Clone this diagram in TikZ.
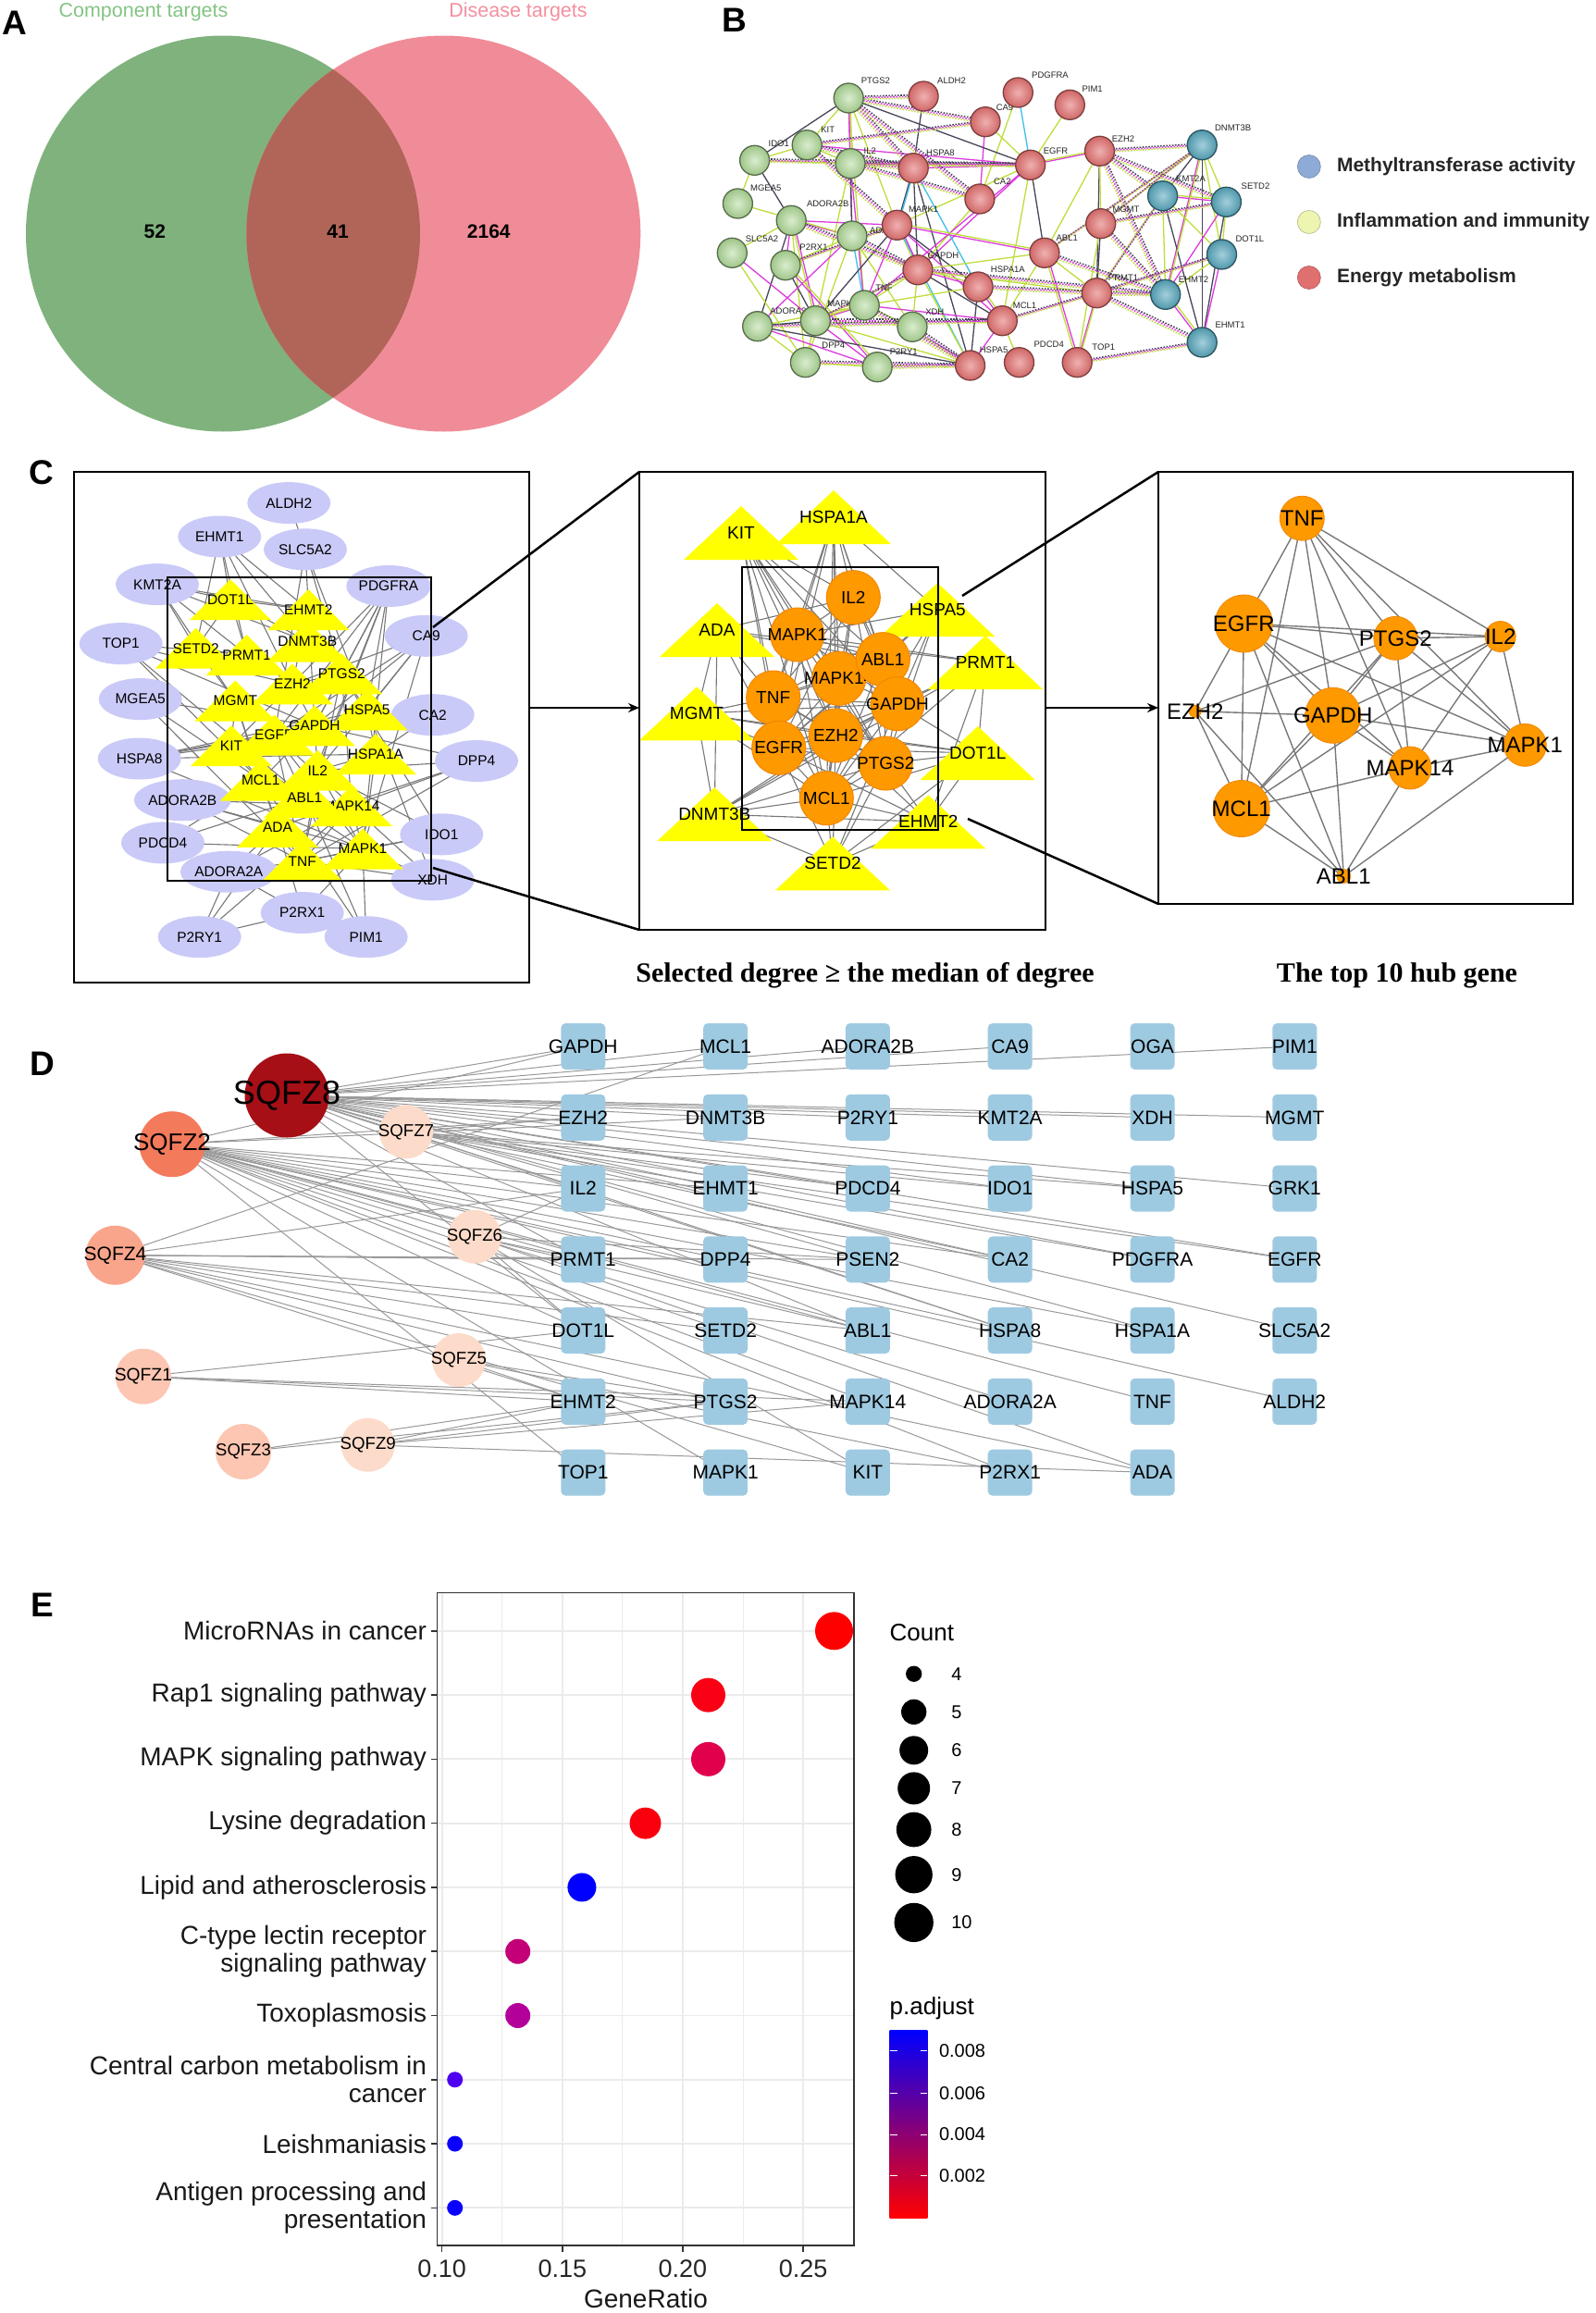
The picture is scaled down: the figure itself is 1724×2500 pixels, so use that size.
\documentclass[tikz,border=0pt]{standalone}
\usepackage{fontspec}
\setmainfont{Liberation Sans}
\newfontfamily\serifbf{Liberation Serif}
\usetikzlibrary{arrows.meta,shapes.geometric}
\pgfdeclarelayer{bg}
\pgfsetlayers{bg,main}
\definecolor{vgreen}{RGB}{128,178,125}
\definecolor{vpink}{RGB}{240,140,151}
\definecolor{vbrown}{RGB}{176,101,88}
\definecolor{vgtext}{RGB}{132,196,132}
\definecolor{vptext}{RGB}{244,144,158}
\definecolor{lav}{RGB}{202,202,248}
\definecolor{triy}{RGB}{255,255,0}
\definecolor{orng}{RGB}{255,153,0}
\definecolor{orngd}{RGB}{240,135,0}
\definecolor{netgray}{RGB}{120,120,120}
\definecolor{sqb}{RGB}{158,202,225}
\definecolor{q8}{RGB}{165,15,21}
\definecolor{q2}{RGB}{244,122,92}
\definecolor{q4}{RGB}{249,165,140}
\definecolor{q1}{RGB}{252,198,178}
\definecolor{q7}{RGB}{253,219,202}
\definecolor{bgreen}{RGB}{172,214,148}
\definecolor{bred}{RGB}{226,112,112}
\definecolor{bteal}{RGB}{88,168,190}
\definecolor{ey}{RGB}{190,222,60}
\definecolor{em}{RGB}{220,60,220}
\definecolor{ek}{RGB}{70,70,90}
\definecolor{ec}{RGB}{60,190,230}
\definecolor{gridc}{RGB}{235,235,235}
\definecolor{legblue}{RGB}{142,170,214}
\definecolor{legyel}{RGB}{238,245,176}
\definecolor{legred}{RGB}{224,112,112}
\definecolor{axc}{RGB}{51,51,51}
\definecolor{pmid}{RGB}{185,0,140}
\definecolor{e1}{RGB}{255,0,0}
\definecolor{e2}{RGB}{250,0,20}
\definecolor{e3}{RGB}{225,0,75}
\definecolor{e4}{RGB}{250,0,15}
\definecolor{e5}{RGB}{0,0,255}
\definecolor{e6}{RGB}{195,0,120}
\definecolor{e7}{RGB}{180,0,155}
\definecolor{e8}{RGB}{80,0,240}
\definecolor{e9}{RGB}{10,0,255}
\newcommand\ltri[3]{%
  \fill[triy] (#2-44,#3+22) -- (#2,#3-22) -- (#2+44,#3+22) -- cycle;
  \node[lfont] (l#1) at (#2,#3) {#1};}
\newcommand\mtri[3]{%
  \fill[triy] (#2-62,#3+29) -- (#2,#3-29) -- (#2+62,#3+29) -- cycle;
  \node[mfont] (m#1) at (#2,#3) {#1};}
\newcommand\mcirc[3]{%
  \node[mcir] (m#1) at (#2,#3) {};
  \node[mfont] (mt#1) at (#2,#3) {#1};}
\newcommand\rcirc[4]{%
  \node[rcir, minimum size=#4pt] (r#1) at (#2,#3) {};
  \node[rfont] (rt#1) at (#2,#3) {#1};}
\def\bglist{PTGS2/917.2/106/946.4/87.3, KIT/872.2/156.7/894.7/140, IDO1/815.6/173.3/841.8/155, IL2/919/176.7/940.3/162.7, MGEA5/797.4/220/827.8/203.3, ADORA2B/855.2/238.3/894.7/220, ADA/920.9/255/950/249, SLC5A2/791.3/273.3/823.5/258.3, P2RX1/849/286.7/879.5/266.7, TNF/934.2/330/955.5/311.7, MAPK14/881.3/346.7/913/328.3, ADORA2A/818.7/352.7/855/336.7, XDH/986/353.3/1010.3/337.3, DPP4/870.4/391.7/900.8/373.3, P2RY1/948.2/396.7/976.8/380}
\def\brlist{ALDH2/998.1/104/1028.5/86.7, PDGFRA/1100.3/100/1135/81.7, PIM1/1156.3/113.3/1180.6/96.7, CA9/1065/131.7/1086/116, EZH2/1188.5/163.3/1214/150, HSPA8/987.2/181.7/1016.4/165, EGFR/1113.7/178.3/1141/163.3, CA2/1058.9/215/1083.3/196.7, MGMT/1189.7/241.7/1217/226.7, MAPK1/969.5/243.3/998.1/226.7, ABL1/1128.9/273.3/1153.2/257.3, GAPDH/992/291.7/1019.4/276, HSPA1A/1057.1/310/1089.3/291, PRMT1/1185.4/316.7/1214/300, MCL1/1083.3/346.7/1107.6/330, HSPA5/1048.6/395/1074.1/378.3, PDCD4/1101.5/391.7/1133.7/372.7, TOP1/1164.2/391.7/1192.8/375}
\def\btlist{DNMT3B/1299.2/156.7/1332.6/138.3, KMT2A/1256.6/211.7/1287/193.3, SETD2/1325.4/218.3/1357/201.7, DOT1L/1320.5/275/1350.9/258.3, EHMT2/1259.7/318.3/1290/301.7, EHMT1/1299.2/370/1329.6/351.7}
\begin{document}
\begin{tikzpicture}[x=1pt,y=-1pt,
  every node/.style={inner sep=0pt, outer sep=0pt},
  plabel/.style={font=\fontsize{37}{40}\selectfont\bfseries},
  lell/.style={ellipse, fill=lav, minimum width=90pt, minimum height=45pt, font=\fontsize{15.5}{17}\selectfont},
  lfont/.style={font=\fontsize{15.5}{17}\selectfont},
  mfont/.style={font=\fontsize{19}{21}\selectfont},
  mcir/.style={circle, fill=orng, draw=orngd, line width=1pt, minimum size=58pt},
  rcir/.style={circle, fill=orng, draw=orngd, line width=0.8pt},
  rfont/.style={font=\fontsize{24}{26}\selectfont},
  net/.style={draw=netgray, line width=1.1pt},
  bigbox/.style={draw=black, line width=2pt},
  zoomline/.style={draw=black, line width=2.5pt},
  bigarrow/.style={draw=black, line width=2pt, -{Stealth[length=12pt,width=10pt]}},
  caption/.style={font=\serifbf\fontsize{30}{34}\selectfont\bfseries},
  bball/.style={circle, minimum size=32pt, line width=1.3pt},
  blbl/.style={font=\fontsize{9.5}{11}\selectfont, text=black!85},
  bedge/.style={line width=1.3pt},
  bdot/.style={line width=1.6pt, dash pattern=on 1.6pt off 1.6pt},
  legb/.style={font=\fontsize{21}{24}\selectfont\bfseries, text=black!85, anchor=west},
  sq/.style={rectangle, rounded corners=5pt, fill=sqb, minimum width=48pt, minimum height=50pt},
  dfont/.style={font=\fontsize{21}{23}\selectfont},
  dedge/.style={draw=black!40, line width=1pt},
  catlbl/.style={font=\fontsize{28}{30}\selectfont, anchor=east, align=right, text=black!90},
  ticklbl/.style={font=\fontsize{27}{30}\selectfont, text=black!85},
  legt/.style={font=\fontsize{26}{28}\selectfont, anchor=west},
  legn/.style={font=\fontsize{20}{22}\selectfont, anchor=west}
]
\useasboundingbox (0,0) rectangle (1724,2500);
\begin{pgfonlayer}{bg}
\fill[white] (0,0) rectangle (1724,2500);
\end{pgfonlayer}

% ================= Panel A =================
\node[plabel] (labA) at (16,25) {A};
\node[font=\fontsize{21.5}{24}\selectfont, text=vgtext] (ctA) at (155,13) {Component targets};
\node[font=\fontsize{21.5}{24}\selectfont, text=vptext] (dtA) at (560,13) {Disease targets};
\fill[vgreen] (241,252.5) ellipse [x radius=213, y radius=214];
\fill[vpink] (479.3,252.5) ellipse [x radius=213, y radius=214];
\begin{scope}
  \clip (241,252.5) ellipse [x radius=213, y radius=214];
  \fill[vbrown] (479.3,252.5) ellipse [x radius=213, y radius=214];
\end{scope}
\node[font=\fontsize{21}{24}\selectfont\bfseries] (n52) at (167.3,250) {52};
\node[font=\fontsize{21}{24}\selectfont\bfseries] (n41) at (365.1,250) {41};
\node[font=\fontsize{21}{24}\selectfont\bfseries] (n2164) at (528.3,250) {2164};

% ================= Panel B =================
\node[plabel] (labB) at (794,22) {B};
\foreach \n/\x/\y/\lx/\ly in \bglist {\node[blbl] (bl\n) at (\lx,\ly) {\n};}
\foreach \n/\x/\y/\lx/\ly in \brlist {\node[blbl] (bl\n) at (\lx,\ly) {\n};}
\foreach \n/\x/\y/\lx/\ly in \btlist {\node[blbl] (bl\n) at (\lx,\ly) {\n};}
\foreach \n/\x/\y/\lx/\ly in \bglist {\node[bball, inner color=bgreen!45!white, outer color=bgreen!92!black, draw=bgreen!50!black] (b\n) at (\x,\y) {};}
\foreach \n/\x/\y/\lx/\ly in \brlist {\node[bball, inner color=bred!55!white, outer color=bred!92!black, draw=bred!55!black] (b\n) at (\x,\y) {};}
\foreach \n/\x/\y/\lx/\ly in \btlist {\node[bball, inner color=bteal!55!white, outer color=bteal!90!black, draw=bteal!50!black] (b\n) at (\x,\y) {};}
\begin{pgfonlayer}{bg}
\foreach \a/\b/\c in {PTGS2/KIT/ey, PTGS2/IL2/em, PTGS2/IDO1/ek, PTGS2/TNF/ey, PTGS2/ADA/em, KIT/IL2/ey, KIT/IDO1/ey, IDO1/IL2/ey, IL2/TNF/em, IL2/ADA/ek, IL2/MAPK14/ey, IDO1/MGEA5/ey, IDO1/ADORA2B/ek, ADORA2B/ADORA2A/ek, ADORA2B/P2RX1/em, ADORA2B/MAPK14/ey, ADORA2B/ADA/em, ADORA2B/DPP4/ey, P2RX1/P2RY1/em, P2RX1/MAPK14/ek, P2RX1/ADA/ey, ADA/DPP4/ey, ADA/ADORA2A/em, ADA/TNF/ec, ADA/XDH/ey, TNF/MAPK14/em, TNF/XDH/ey, TNF/ADORA2A/ey, MAPK14/ADORA2A/ek, MAPK14/DPP4/ey, MAPK14/P2RY1/em, ADORA2A/P2RY1/em, ADORA2A/DPP4/ey, DPP4/P2RY1/ey, SLC5A2/DPP4/ey, SLC5A2/MAPK14/em, SLC5A2/ADORA2B/ey, MGEA5/ADA/ey, ALDH2/HSPA8/ek, PDGFRA/EGFR/ec, PDGFRA/CA2/ey, PIM1/EGFR/ey, CA9/CA2/em, CA9/EGFR/ey, EGFR/EZH2/em, EGFR/ABL1/ek, EGFR/GAPDH/em, EGFR/MAPK1/ey, EGFR/HSPA8/em, EGFR/MCL1/ey, EZH2/PRMT1/ek, EZH2/MGMT/ey, EZH2/ABL1/ey, HSPA8/HSPA5/ek, HSPA8/HSPA1A/ec, HSPA8/GAPDH/ek, HSPA8/MAPK1/ek, MAPK1/ABL1/em, MAPK1/GAPDH/ey, MAPK1/HSPA5/ec, MAPK1/MCL1/em, MAPK1/HSPA1A/ek, GAPDH/HSPA1A/em, GAPDH/HSPA5/ey, GAPDH/ABL1/ey, GAPDH/PRMT1/ey, GAPDH/MCL1/ek, HSPA1A/HSPA5/ek, HSPA1A/MCL1/em, MCL1/PDCD4/ey, MCL1/ABL1/ey, MCL1/HSPA5/em, PRMT1/TOP1/em, ABL1/TOP1/ey, ABL1/PRMT1/ey, CA2/GAPDH/ey, MGMT/TOP1/ey, MGMT/PRMT1/ek, TNF/MAPK1/em, TNF/GAPDH/ey, IL2/EGFR/ey, PTGS2/EGFR/ek, MAPK14/MAPK1/ek, MAPK14/HSPA5/ey, KIT/EGFR/em, PTGS2/MAPK1/ey, TNF/EGFR/em, ADA/MAPK1/ey, TNF/HSPA1A/ey, TNF/MCL1/em, XDH/GAPDH/ey, ADORA2B/MAPK1/em, ADORA2A/HSPA5/ek, DNMT3B/KMT2A/ek, DNMT3B/SETD2/ey, DNMT3B/EHMT2/em, DNMT3B/DOT1L/ey, DNMT3B/EHMT1/ek, KMT2A/SETD2/em, KMT2A/DOT1L/ey, KMT2A/EHMT1/ek, KMT2A/EHMT2/ey, SETD2/DOT1L/ey, SETD2/EHMT2/em, SETD2/EHMT1/ek, DOT1L/EHMT2/ey, DOT1L/EHMT1/em, EHMT2/EHMT1/em}
  {\draw[bedge, draw=\c] (b\a.center) -- (b\b.center);}
\foreach \a/\b/\c in {PTGS2/IL2/ey, ADORA2B/MAPK14/em, HSPA8/MAPK1/ec, EGFR/EZH2/ey, MAPK1/GAPDH/em, GAPDH/HSPA1A/ey, HSPA1A/MCL1/ey, DNMT3B/EHMT2/ey, KMT2A/SETD2/ey, EHMT2/EHMT1/ey, TNF/MAPK14/ey, P2RX1/P2RY1/ey, PRMT1/TOP1/ey, ABL1/TOP1/em, MAPK1/ABL1/ey}
  {\draw[bedge, draw=\c, transform canvas={shift={(1.8pt,1.8pt)}}] (b\a.center) -- (b\b.center);}
\foreach \a/\b in {EZH2/DNMT3B, EZH2/KMT2A, EZH2/SETD2, EZH2/EHMT2, PRMT1/EHMT1, PRMT1/EHMT2, PRMT1/DOT1L, PRMT1/KMT2A, MGMT/DNMT3B, MGMT/EHMT2, MGMT/SETD2, ABL1/DNMT3B, ABL1/EHMT2, GAPDH/EHMT2, HSPA1A/PRMT1, PTGS2/HSPA8, PTGS2/CA9, PTGS2/CA2, PTGS2/ALDH2, KIT/CA9, KIT/HSPA8, IL2/CA2, IL2/HSPA8, IDO1/EGFR, ADORA2B/GAPDH, TNF/HSPA5, MAPK14/MCL1, XDH/HSPA5, P2RY1/HSPA5, DPP4/HSPA5, ADA/GAPDH, MAPK14/GAPDH, P2RX1/MAPK1, ADORA2A/MCL1, TOP1/EHMT1, MCL1/PRMT1, IL2/EGFR, KIT/MAPK1}
  {\draw[bdot, draw=ek, transform canvas={shift={(1.6pt,1.6pt)}}] (b\a.center) -- (b\b.center);
   \draw[bdot, draw=em] (b\a.center) -- (b\b.center);
   \draw[bdot, draw=ey, transform canvas={shift={(-1.6pt,-1.6pt)}}] (b\a.center) -- (b\b.center);}
\end{pgfonlayer}
\node[circle, minimum size=25pt, fill=legblue, draw=legblue!80!black, line width=0.6pt] (lg1) at (1414.8,180) {};
\node[circle, minimum size=25pt, fill=legyel, draw=legyel!75!black, line width=0.6pt] (lg2) at (1414.8,240) {};
\node[circle, minimum size=25pt, fill=legred, draw=legred!80!black, line width=0.6pt] (lg3) at (1414.8,300) {};
\node[legb] (lgt1) at (1445,180) {Methyltransferase activity};
\node[legb] (lgt2) at (1445,240) {Inflammation and immunity};
\node[legb] (lgt3) at (1445,300) {Energy metabolism};

% ================= Panel C =================
\node[plabel] (labC) at (45,511) {C};
% left network
\foreach \n/\x/\y in {ALDH2/312.3/543.6, EHMT1/237.3/580, SLC5A2/330/593.8, KMT2A/170/631.6, PDGFRA/420/633.5, TOP1/130.7/695.6, CA9/460.7/687.3, MGEA5/151.7/755.6, CA2/467.7/772.7, HSPA8/150.7/820, DPP4/515/822.5, ADORA2B/197.3/864.7, IDO1/477.3/901.8, PDCD4/176/910.9, XDH/467.7/950.9, ADORA2A/247.3/942.2, P2RX1/326.7/986.5, P2RY1/215.7/1012.7, PIM1/395.7/1012.7}
  {\node[lell] (l\n) at (\x,\y) {\n};}
\ltri{DOT1L}{249}{648}
\ltri{EHMT2}{333.3}{659}
\ltri{SETD2}{211.7}{700.7}
\ltri{PRMT1}{266.7}{708}
\ltri{DNMT3B}{332.3}{693.5}
\ltri{EZH2}{316}{739.3}
\ltri{PTGS2}{369.3}{728.4}
\ltri{MGMT}{254.3}{757.5}
\ltri{HSPA5}{396.7}{767.3}
\ltri{EGFR}{296.7}{794.5}
\ltri{GAPDH}{340}{784.4}
\ltri{KIT}{250}{806}
\ltri{HSPA1A}{406}{815}
\ltri{IL2}{343.3}{832.7}
\ltri{MCL1}{281.7}{843.6}
\ltri{MAPK14}{380}{871}
\ltri{ABL1}{329.3}{861.8}
\ltri{ADA}{300}{893.8}
\ltri{TNF}{326.7}{930.9}
\ltri{MAPK1}{392}{917.5}
\begin{pgfonlayer}{bg}
\foreach \a/\b in {ALDH2/SLC5A2, EHMT1/DOT1L, EHMT1/EHMT2, EHMT1/DNMT3B, EHMT1/SETD2, EHMT1/PRMT1, EHMT1/EZH2, SLC5A2/EGFR, SLC5A2/GAPDH, SLC5A2/PTGS2, SLC5A2/HSPA5, KMT2A/DOT1L, KMT2A/EHMT2, KMT2A/SETD2, KMT2A/PRMT1, KMT2A/MGMT, KMT2A/DNMT3B, PDGFRA/PTGS2, PDGFRA/EGFR, PDGFRA/GAPDH, PDGFRA/ABL1, PDGFRA/IL2, PDGFRA/KIT, PDGFRA/HSPA5, PDGFRA/MAPK1, TOP1/EZH2, TOP1/MCL1, TOP1/ABL1, TOP1/GAPDH, TOP1/PRMT1, CA9/EGFR, CA9/GAPDH, CA9/HSPA5, CA9/MAPK1, CA9/IL2, CA9/EZH2, MGEA5/MAPK1, MGEA5/GAPDH, MGEA5/TNF, CA2/EGFR, CA2/HSPA1A, CA2/GAPDH, HSPA8/HSPA1A, HSPA8/HSPA5, HSPA8/GAPDH, HSPA8/MAPK1, HSPA8/EGFR, HSPA8/KIT, DPP4/IL2, DPP4/TNF, DPP4/MAPK14, DPP4/ADA, DPP4/GAPDH, ADORA2B/MAPK1, ADORA2B/MAPK14, ADORA2B/TNF, ADORA2B/ADA, IDO1/TNF, IDO1/IL2, IDO1/MAPK1, IDO1/PTGS2, PDCD4/MCL1, PDCD4/MAPK1, PDCD4/ABL1, XDH/TNF, XDH/MAPK1, XDH/EGFR, XDH/HSPA5, ADORA2A/ADA, ADORA2A/TNF, ADORA2A/MAPK14, ADORA2A/P2RY1, ADORA2A/P2RX1, P2RX1/P2RY1, P2RX1/MAPK1, P2RX1/ADA, P2RY1/ADA, P2RY1/MAPK14, PIM1/MAPK1, PIM1/ABL1, PIM1/MCL1, DOT1L/EHMT2, DOT1L/SETD2, DOT1L/DNMT3B, DOT1L/PRMT1, EHMT2/DNMT3B, EHMT2/EZH2, SETD2/PRMT1, SETD2/MGMT, PRMT1/EZH2, EZH2/PTGS2, EZH2/GAPDH, PTGS2/HSPA5, PTGS2/GAPDH, PTGS2/TNF, MGMT/KIT, MGMT/MCL1, HSPA5/HSPA1A, HSPA5/GAPDH, GAPDH/EGFR, GAPDH/IL2, GAPDH/MCL1, EGFR/KIT, EGFR/ABL1, EGFR/MAPK1, KIT/MCL1, HSPA1A/IL2, HSPA1A/MAPK1, IL2/TNF, IL2/ABL1, MCL1/ABL1, MCL1/ADA, ABL1/MAPK14, MAPK14/MAPK1, ADA/TNF, TNF/MAPK1, TNF/MAPK14, EGFR/TNF, PTGS2/MAPK14, IL2/MAPK1, KIT/ABL1, MGMT/ADA}
  {\draw[net] (l\a.center) -- (l\b.center);}
\end{pgfonlayer}
\node[bigbox, minimum width=492pt, minimum height=552pt] (boxL) at (326,786) {};
\node[bigbox, minimum width=285.3pt, minimum height=328pt] (inL) at (323.4,787.6) {};

% middle network
\mtri{KIT}{801}{576}
\mtri{HSPA1A}{901}{559}
\mtri{HSPA5}{1013.3}{659}
\mtri{ADA}{775}{681}
\mtri{PRMT1}{1065}{716}
\mtri{MGMT}{753}{771.3}
\mtri{DOT1L}{1056.7}{814}
\mtri{DNMT3B}{772.3}{880}
\mtri{EHMT2}{1003.3}{888.3}
\mtri{SETD2}{900}{933.3}
\mcirc{IL2}{922.3}{645.7}
\mcirc{MAPK1}{861.7}{686}
\mcirc{MAPK14}{906.7}{733.3}
\mcirc{ABL1}{954.3}{712.7}
\mcirc{GAPDH}{970}{760.7}
\mcirc{TNF}{835.7}{754}
\mcirc{EGFR}{841.7}{808.3}
\mcirc{EZH2}{903.3}{795}
\mcirc{PTGS2}{957.3}{825}
\mcirc{MCL1}{893.3}{862.7}
\begin{pgfonlayer}{bg}
\foreach \a/\b in {KIT/MAPK1, KIT/TNF, KIT/EGFR, KIT/GAPDH, KIT/MAPK14, KIT/MCL1, KIT/ABL1, KIT/EZH2, KIT/PTGS2, KIT/IL2, HSPA1A/MAPK1, HSPA1A/IL2, HSPA1A/TNF, HSPA1A/EGFR, HSPA1A/GAPDH, HSPA1A/MCL1, HSPA1A/MAPK14, HSPA1A/HSPA5, HSPA1A/EZH2, HSPA1A/ABL1, HSPA5/MAPK1, HSPA5/GAPDH, HSPA5/MCL1, HSPA5/TNF, HSPA5/EGFR, HSPA5/ABL1, HSPA5/PTGS2, ADA/MGMT, ADA/TNF, ADA/IL2, ADA/EGFR, ADA/PRMT1, ADA/ABL1, ADA/DNMT3B, PRMT1/GAPDH, PRMT1/EZH2, PRMT1/DNMT3B, PRMT1/MCL1, PRMT1/EHMT2, PRMT1/DOT1L, PRMT1/MAPK1, MGMT/EGFR, MGMT/TNF, MGMT/DNMT3B, MGMT/GAPDH, MGMT/DOT1L, MGMT/MCL1, MGMT/EZH2, DOT1L/EZH2, DOT1L/GAPDH, DOT1L/EHMT2, DOT1L/PTGS2, DOT1L/SETD2, DOT1L/MCL1, DOT1L/EGFR, DNMT3B/EZH2, DNMT3B/MCL1, DNMT3B/EHMT2, DNMT3B/SETD2, DNMT3B/GAPDH, DNMT3B/PTGS2, EHMT2/EZH2, EHMT2/SETD2, EHMT2/MCL1, EHMT2/PTGS2, EHMT2/EGFR, SETD2/EZH2, SETD2/MCL1, SETD2/PTGS2, SETD2/EGFR, SETD2/GAPDH, IL2/MAPK1, IL2/ABL1, IL2/MAPK14, IL2/TNF, IL2/GAPDH, IL2/EZH2, IL2/EGFR, IL2/PTGS2, IL2/MCL1, MAPK1/ABL1, MAPK1/MAPK14, MAPK1/TNF, MAPK1/GAPDH, MAPK1/EZH2, MAPK1/EGFR, MAPK1/PTGS2, MAPK1/MCL1, ABL1/MAPK14, ABL1/TNF, ABL1/GAPDH, ABL1/EGFR, ABL1/PTGS2, ABL1/MCL1, MAPK14/TNF, MAPK14/GAPDH, MAPK14/EZH2, MAPK14/EGFR, MAPK14/PTGS2, MAPK14/MCL1, TNF/GAPDH, TNF/EZH2, TNF/EGFR, TNF/PTGS2, TNF/MCL1, GAPDH/EZH2, GAPDH/EGFR, GAPDH/PTGS2, GAPDH/MCL1, EZH2/EGFR, EZH2/PTGS2, EZH2/MCL1, EGFR/PTGS2, EGFR/MCL1, PTGS2/MCL1}
  {\draw[net] (m\a.center) -- (m\b.center);}
\end{pgfonlayer}
\node[bigbox, minimum width=439pt, minimum height=495pt] (boxM) at (910.5,757.5) {};
\node[bigbox, minimum width=212pt, minimum height=283.4pt] (inM) at (908.3,755) {};

% right network
\rcirc{TNF}{1407.3}{560.2}{48}
\rcirc{EGFR}{1344.3}{674}{62}
\rcirc{PTGS2}{1508.3}{689.8}{47}
\rcirc{IL2}{1621.7}{688}{33}
\rcirc{EZH2}{1291.7}{768.8}{13}
\rcirc{GAPDH}{1440.7}{773.3}{60}
\rcirc{MAPK1}{1648.3}{805.3}{46}
\rcirc{MAPK14}{1524}{830}{46}
\rcirc{MCL1}{1341.7}{874}{61}
\rcirc{ABL1}{1452.3}{947}{15}
\begin{pgfonlayer}{bg}
\foreach \a/\b in {TNF/EGFR, TNF/MCL1, TNF/GAPDH, TNF/MAPK14, TNF/MAPK1, TNF/PTGS2, TNF/IL2, EGFR/PTGS2, EGFR/IL2, EGFR/EZH2, EGFR/MCL1, EGFR/GAPDH, EGFR/MAPK14, EGFR/MAPK1, EGFR/ABL1, PTGS2/IL2, PTGS2/EZH2, PTGS2/GAPDH, PTGS2/MCL1, PTGS2/MAPK14, PTGS2/MAPK1, IL2/GAPDH, IL2/MCL1, IL2/MAPK14, IL2/MAPK1, EZH2/GAPDH, EZH2/MCL1, EZH2/ABL1, GAPDH/MCL1, GAPDH/MAPK14, GAPDH/MAPK1, GAPDH/ABL1, MAPK14/MAPK1, MAPK14/MCL1, MAPK14/ABL1, MCL1/ABL1, MAPK1/ABL1}
  {\draw[net, line width=1.4pt] (r\a.center) -- (r\b.center);}
\end{pgfonlayer}
\node[bigbox, minimum width=448pt, minimum height=467pt] (boxR) at (1476,743.5) {};

% zoom lines and arrows
\coordinate (zl1) at (468,678);
\coordinate (zl2) at (468,938);
\coordinate (zm1) at (1040,644);
\coordinate (zm2) at (1046,885);
\coordinate (ay) at (0,765);
\draw[zoomline] (zl1) -- (boxM.north west);
\draw[zoomline] (zl2) -- (boxM.south west);
\draw[zoomline] (zm1) -- (boxR.north west);
\draw[zoomline] (zm2) -- (boxR.south west);
\draw[bigarrow] (boxL.east |- ay) -- (boxM.west |- ay);
\draw[bigarrow] (boxM.east |- ay) -- (boxR.west |- ay);
\node[caption] (cap1) at (935,1054) {Selected degree ≥ the median of degree};
\node[caption] (cap2) at (1510,1054) {The top 10 hub gene};

% ================= Panel D =================
\node[plabel] (labD) at (46,1150) {D};
\foreach \n/\c/\r in {GAPDH/1/1, MCL1/2/1, ADORA2B/3/1, CA9/4/1, OGA/5/1, PIM1/6/1, EZH2/1/2, DNMT3B/2/2, P2RY1/3/2, KMT2A/4/2, XDH/5/2, MGMT/6/2, IL2/1/3, EHMT1/2/3, PDCD4/3/3, IDO1/4/3, HSPA5/5/3, GRK1/6/3, PRMT1/1/4, DPP4/2/4, PSEN2/3/4, CA2/4/4, PDGFRA/5/4, EGFR/6/4, DOT1L/1/5, SETD2/2/5, ABL1/3/5, HSPA8/4/5, HSPA1A/5/5, SLC5A2/6/5, EHMT2/1/6, PTGS2/2/6, MAPK14/3/6, ADORA2A/4/6, TNF/5/6, ALDH2/6/6, TOP1/1/7, MAPK1/2/7, KIT/3/7, P2RX1/4/7, ADA/5/7}
  {\node[sq] (d\n) at ({630.3+153.8*(\c-1)},{1131+76.77*(\r-1)}) {};
   \node[dfont] (dl\n) at ({630.3+153.8*(\c-1)},{1131+76.77*(\r-1)}) {\n};}
\foreach \n/\x/\y/\d/\c/\f in {8/310/1184/91/q8/36, 2/186/1236.7/71/q2/26, 7/439/1223.3/58/q7/18.7, 6/513/1336.7/58/q7/18.7, 4/124.5/1356.7/64/q4/21, 5/496/1470/58/q7/18.7, 1/154.9/1487.7/60/q1/19.3, 3/263/1569/60/q1/18.5, 9/397.7/1561.7/58/q7/18.7}
  {\node[circle, fill=\c, minimum size=\d pt] (q\n) at (\x,\y) {};
   \node[font=\fontsize{\f}{\f}\selectfont] (qt\n) at (\x,\y) {SQFZ\n};}
\begin{pgfonlayer}{bg}
\foreach \a/\b in {8/GAPDH, 8/MCL1, 8/ADORA2B, 8/CA9, 8/PIM1, 8/EZH2, 8/DNMT3B, 8/P2RY1, 8/KMT2A, 8/XDH, 8/MGMT, 8/IL2, 8/EHMT1, 8/PDCD4, 8/IDO1, 8/HSPA5, 8/GRK1, 8/PRMT1, 8/PSEN2, 8/CA2, 8/PDGFRA, 8/EGFR, 8/DOT1L, 8/HSPA8, 8/HSPA1A, 8/SLC5A2, 8/ABL1, 2/GAPDH, 2/EZH2, 2/DNMT3B, 2/IL2, 2/EHMT1, 2/PRMT1, 2/DPP4, 2/PSEN2, 2/CA2, 2/DOT1L, 2/SETD2, 2/ABL1, 2/HSPA8, 2/HSPA1A, 2/MAPK14, 2/ADORA2A, 2/TNF, 2/ALDH2, 2/TOP1, 2/MAPK1, 2/P2RX1, 4/MCL1, 4/IL2, 4/PRMT1, 4/DPP4, 4/DOT1L, 4/SETD2, 4/ABL1, 4/EHMT2, 4/PTGS2, 4/KIT, 4/ADA, 4/PSEN2, 7/EZH2, 7/PDCD4, 7/IDO1, 7/HSPA5, 7/CA2, 7/HSPA8, 7/PDGFRA, 7/EGFR, 6/IL2, 6/PRMT1, 6/PSEN2, 6/DOT1L, 6/ABL1, 6/ADA, 6/KIT, 5/EHMT2, 5/PTGS2, 5/P2RX1, 1/DOT1L, 1/EHMT2, 1/PTGS2, 1/MAPK14, 3/EHMT2, 3/PTGS2, 9/EHMT2, 9/PTGS2, 9/MAPK14, 9/ADA}
  {\draw[dedge] (q\a.center) -- (d\b.center);}
\end{pgfonlayer}

% ================= Panel E =================
\node[plabel] (labE) at (46,1735) {E};
\fill[white] (472.7,1721.6) rectangle (922.8,2427);
\foreach \r in {0.125,0.175,0.225}
  {\draw[gridc, line width=0.9pt] ({477.6+(\r-0.1)*2604},1721.6) -- ({477.6+(\r-0.1)*2604},2427);}
\foreach \r in {0.10,0.15,0.20,0.25}
  {\draw[gridc, line width=1.8pt] ({477.6+(\r-0.1)*2604},1721.6) -- ({477.6+(\r-0.1)*2604},2427);
   \draw[axc, line width=1.5pt] ({477.6+(\r-0.1)*2604},2427) -- ({477.6+(\r-0.1)*2604},2434);}
\foreach \i in {1,...,10}
  {\draw[gridc, line width=1.8pt] (472.7,{1762.8+69.28*(\i-1)}) -- (922.8,{1762.8+69.28*(\i-1)});
   \draw[axc, line width=1.5pt] (466,{1762.8+69.28*(\i-1)}) -- (472.7,{1762.8+69.28*(\i-1)});}
\foreach \i/\x/\d/\c in {1/901.5/41/e1, 2/765.5/37/e2, 3/765.5/37/e3, 4/697.5/34/e4, 5/628.9/31/e5, 6/559.7/27/e6, 7/559.7/27/e7, 8/491.7/17/e8, 9/491.7/17/e9, 10/491.7/17/e9}
  {\node[circle, fill=\c, minimum size=\d pt] (ep\i) at (\x,{1762.8+69.28*(\i-1)}) {};}
\draw[axc, line width=1.5pt] (472.7,1721.6) rectangle (922.8,2427);
\foreach \i/\t in {1/MicroRNAs in cancer, 2/Rap1 signaling pathway, 3/MAPK signaling pathway, 4/Lysine degradation, 5/Lipid and atherosclerosis, 6/{C-type lectin receptor\\signaling pathway}, 7/Toxoplasmosis, 8/{Central carbon metabolism in\\cancer}, 9/Leishmaniasis, 10/{Antigen processing and\\presentation}}
  {\node[catlbl] (ec\i) at (461,{1762.8+69.28*(\i-1)}) {\t};}
\foreach \i/\r/\t in {1/0.10/0.10, 2/0.15/0.15, 3/0.20/0.20, 4/0.25/0.25}
  {\node[ticklbl] (ex\i) at ({477.6+(\r-0.1)*2604},2452) {\t};}
\node[font=\fontsize{28}{30}\selectfont, text=black!90] (exlab) at (698,2484) {GeneRatio};
% legend count
\node[legt] (lgc) at (961.7,1765) {Count};
\foreach \i/\y/\d/\t in {1/1809.2/17.3/4, 2/1850.3/27.3/5, 3/1891.8/31/6, 4/1932.9/35/7, 5/1977.5/37.7/8, 6/2026.2/40.3/9, 7/2077.9/42.3/10}
  {\node[circle, fill=black, minimum size=\d pt] (lc\i) at (987.7,\y) {};
   \node[legn] (lct\i) at (1028.3,\y) {\t};}
% legend p.adjust
\node[legt] (lgp) at (961.7,2171) {p.adjust};
\shade[top color=blue, middle color=pmid, bottom color=red] (961.7,2194.5) rectangle (1002.3,2397.1);
\foreach \i/\y/\t in {1/2216.8/0.008, 2/2262.3/0.006, 3/2307/0.004, 4/2351.6/0.002}
  {\draw[white, line width=1pt] (961.7,\y) -- (969.5,\y);
   \draw[white, line width=1pt] (994.5,\y) -- (1002.3,\y);
   \node[legn] (lpt\i) at (1015,\y) {\t};}
\end{tikzpicture}
\end{document}
